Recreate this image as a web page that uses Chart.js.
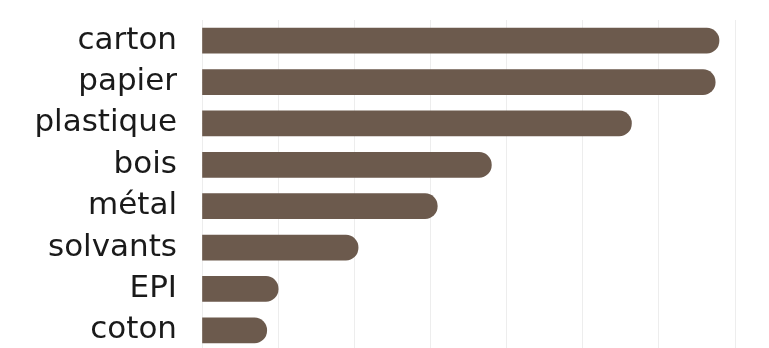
<!DOCTYPE html>
<html>
<head>
<meta charset="utf-8">
<script src="https://cdn.jsdelivr.net/npm/chart.js@4"></script>
<style>
  html, body { margin: 0; padding: 0; background: #fff; overflow: hidden; }
  #wrap { width: 769px; height: 351px; position: relative; }
</style>
</head>
<body>
<div id="wrap"><canvas id="wasteChart"></canvas></div>
<script>
// Categories and values
const categories = ['carton', 'papier', 'plastique', 'bois', 'métal', 'solvants', 'EPI', 'coton'];
const amounts = [67.9, 67.4, 56.4, 38.0, 30.9, 20.5, 10.0, 8.5];
const axisMax = 70;
const axisStep = 10;

const barColor = '#6c5a4d';

const ctx = document.getElementById('wasteChart').getContext('2d');
new Chart(ctx, {
    type: 'bar',
    data: {
        labels: categories,
        datasets: [{
            data: amounts,
            backgroundColor: barColor,
            borderRadius: 13,
            borderSkipped: 'start',
            barThickness: 25
        }]
    },
    options: {
        indexAxis: 'y',
        responsive: true,
        maintainAspectRatio: false,
        animation: false,
        layout: { padding: { top: 20, right: 34, bottom: 0, left: 0 } },
        plugins: {
            legend: { display: false },
            tooltip: { enabled: false }
        },
        scales: {
            x: {
                min: 0,
                max: axisMax,
                ticks: { display: false, stepSize: axisStep },
                grid: { color: '#ededed', lineWidth: 1, drawTicks: false },
                border: { display: false },
                afterFit: function(scale) {
                    scale.height = 0;
                    scale.paddingLeft = 0;
                    scale.paddingRight = 0;
                }
            },
            y: {
                ticks: {
                    color: '#1a1a1a',
                    padding: 25,
                    font: { family: 'DejaVu Sans', size: 31 }
                },
                grid: { display: false, drawTicks: false },
                border: { display: false },
                afterFit: function(scale) {
                    scale.width = 202;
                    scale.paddingTop = 0;
                    scale.paddingBottom = 0;
                }
            }
        }
    }
});
</script>
</body>
</html>
